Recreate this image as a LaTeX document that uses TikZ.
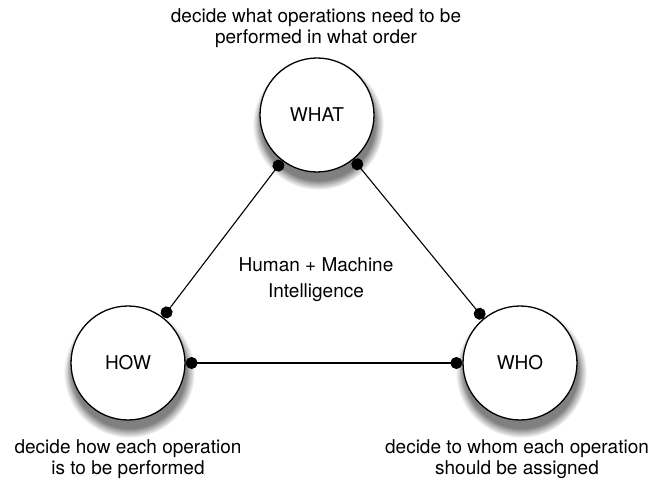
\documentclass[tikz,border=0pt]{standalone}
\usepackage{fontspec}
\setmainfont{TeX Gyre Heros}
\usepackage{tikz}
\usetikzlibrary{arrows.meta,shadows}

\begin{document}
\begin{tikzpicture}[x=1pt,y=1pt]
		\tikzstyle{task}=[draw,shape=circle,fill=white,line width=1.3pt,minimum size=114pt,inner sep=0pt,font=\fontsize{19}{22}\selectfont,
			circular drop shadow={shadow xshift=1pt,shadow yshift=-8pt,shadow scale=1.15,opacity=1},
			circular drop shadow={shadow xshift=0pt,shadow yshift=-5pt,shadow scale=1.07,opacity=1}]
		\tikzstyle{note}=[align=center,font=\fontsize{19}{21.5}\selectfont]
		\tikzstyle{link}=[line width=1.1pt,{Circle[length=12pt]}-{Circle[length=12pt]}]

		\useasboundingbox (0,0) rectangle (654,480);

		\node[task](what) at (317,365){WHAT};
		\node[task](how) at (128,117){HOW};
		\node[task](who) at (520,117){WHO};

		\node[note](whatnote) at (316,452){decide what operations need to be\\performed in what order};
		\node[note](hownote) at (128,21){decide how each operation\\is to be performed};
		\node[note](whonote) at (517,21){decide to whom each operation\\should be assigned};
		\node[note,font=\fontsize{19}{26}\selectfont](mix) at (316,200.5){Human + Machine\\Intelligence};

		\draw[link] (what) -- (how);
		\draw[link] (what) -- (who);
		\draw[link] (how) -- (who);
	\end{tikzpicture}
\end{document}
